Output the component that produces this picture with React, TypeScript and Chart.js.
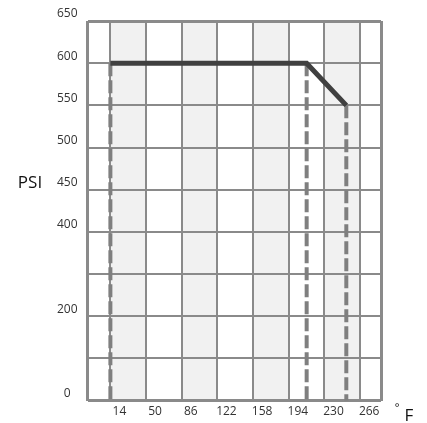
import React, { useEffect, useRef } from "react";
import { Chart, registerables } from "chart.js";

Chart.register(...registerables);

// Y levels (top to bottom), two levels unlabeled in the source
const yLevels = ["650", "600", "550", "500", "450", "400", " ", "200", "  ", "0"];
// X tick values (°F) plus the two plot edges (unlabeled)
const xTicks = [14, 50, 86, 122, 158, 194, 230, 266];
const xMin = -9;
const xMax = 287;
// Shaded columns [from, to]
const shadedBands: [number, number][] = [
  [14, 50],
  [86, 122],
  [158, 194],
  [230, 266],
];
// Rating curve
const curveTemps = [14, 212, 252];
const curvePsi = ["600", "600", "550"];
// Drop lines
const dropTemps = [14, 212, 252];
const dropTops = ["600", "600", "550"];
const dropBottom = "0";

const GRID = "#8a8a8a";
const FONT = "'Open Sans', 'DejaVu Sans', sans-serif";

export default function App() {
  const ref = useRef<HTMLCanvasElement>(null);
  useEffect(() => {
    if (!ref.current) return;
    const curve = {
      label: "curve",
      data: curveTemps.map((t, i) => ({ x: t, y: curvePsi[i] })),
      borderColor: "#404040",
      borderWidth: 5,
      pointRadius: 0,
      fill: false,
      tension: 0,
      order: 0,
    };
    const drops = dropTemps.map((t, i) => ({
      label: "drop" + i,
      data: [
        { x: t, y: dropTops[i] },
        { x: t, y: dropBottom },
      ],
      borderColor: "#7f7f7f",
      borderWidth: 4,
      borderDash: [13, 4],
      pointRadius: 0,
      fill: false,
      order: 1,
    }));

    const bgPlugin = {
      id: "bands",
      beforeDraw(chart: any) {
        const { ctx, chartArea, scales } = chart;
        ctx.save();
        ctx.fillStyle = "#f1f1f1";
        shadedBands.forEach(([a, b]) => {
          const x1 = scales.x.getPixelForValue(a);
          const x2 = scales.x.getPixelForValue(b);
          ctx.fillRect(x1, chartArea.top, x2 - x1, chartArea.bottom - chartArea.top);
        });
        ctx.restore();
      },
      afterDraw(chart: any) {
        const { ctx, chartArea, scales } = chart;
        ctx.save();
        ctx.fillStyle = "#111";
        ctx.font = `17px ${FONT}`;
        ctx.textAlign = "center";
        ctx.textBaseline = "middle";
        const yy = scales.y.getPixelForValue(yLevels.indexOf("450")) - 7;
        ctx.fillText("PSI", 30, yy);
        ctx.font = `11px ${FONT}`;
        ctx.fillText("°", chartArea.right + 16, chartArea.bottom + 7);
        ctx.font = `17px ${FONT}`;
        ctx.fillText("F", chartArea.right + 28, chartArea.bottom + 16);
        ctx.restore();
      },
    };

    const edgeWidth = (ctx: any) => {
      const n = ctx.scale.ticks.length;
      return ctx.index === 0 || ctx.index === n - 1 ? 3 : 2;
    };

    const chart = new Chart(ref.current, {
      type: "line",
      data: { datasets: [curve, ...drops] as any },
      plugins: [bgPlugin],
      options: {
        animation: false,
        responsive: true,
        maintainAspectRatio: false,
        layout: { padding: { left: 47, right: 46, top: 21, bottom: 0 } },
        plugins: { legend: { display: false }, tooltip: { enabled: false } },
        scales: {
          x: {
            type: "linear",
            min: xMin,
            max: xMax,
            afterBuildTicks: (scale: any) => {
              scale.ticks = [xMin, ...xTicks, xMax].map((v) => ({ value: v }));
            },
            grid: { color: GRID, lineWidth: edgeWidth, drawTicks: false },
            border: { display: false },
            ticks: {
              autoSkip: false,
              maxRotation: 0,
              labelOffset: 9,
              padding: 4,
              color: "#333",
              font: { family: FONT, size: 12 },
              callback: (v: any) => (xTicks.includes(Number(v)) ? String(v) : ""),
            },
          },
          y: {
            type: "category",
            labels: yLevels,
            offset: false,
            grid: { color: GRID, lineWidth: edgeWidth, drawTicks: false },
            border: { display: false },
            ticks: {
              autoSkip: false,
              crossAlign: "center",
              padding: 10,
              labelOffset: -7,
              color: "#333",
              font: { family: FONT, size: 12 },
            },
          },
        },
      },
    });
    return () => chart.destroy();
  }, []);
  return (
    <div style={{ position: "absolute", left: 0, top: 0, width: 427, height: 423, background: "#fff" }}>
      <canvas ref={ref} />
    </div>
  );
}
